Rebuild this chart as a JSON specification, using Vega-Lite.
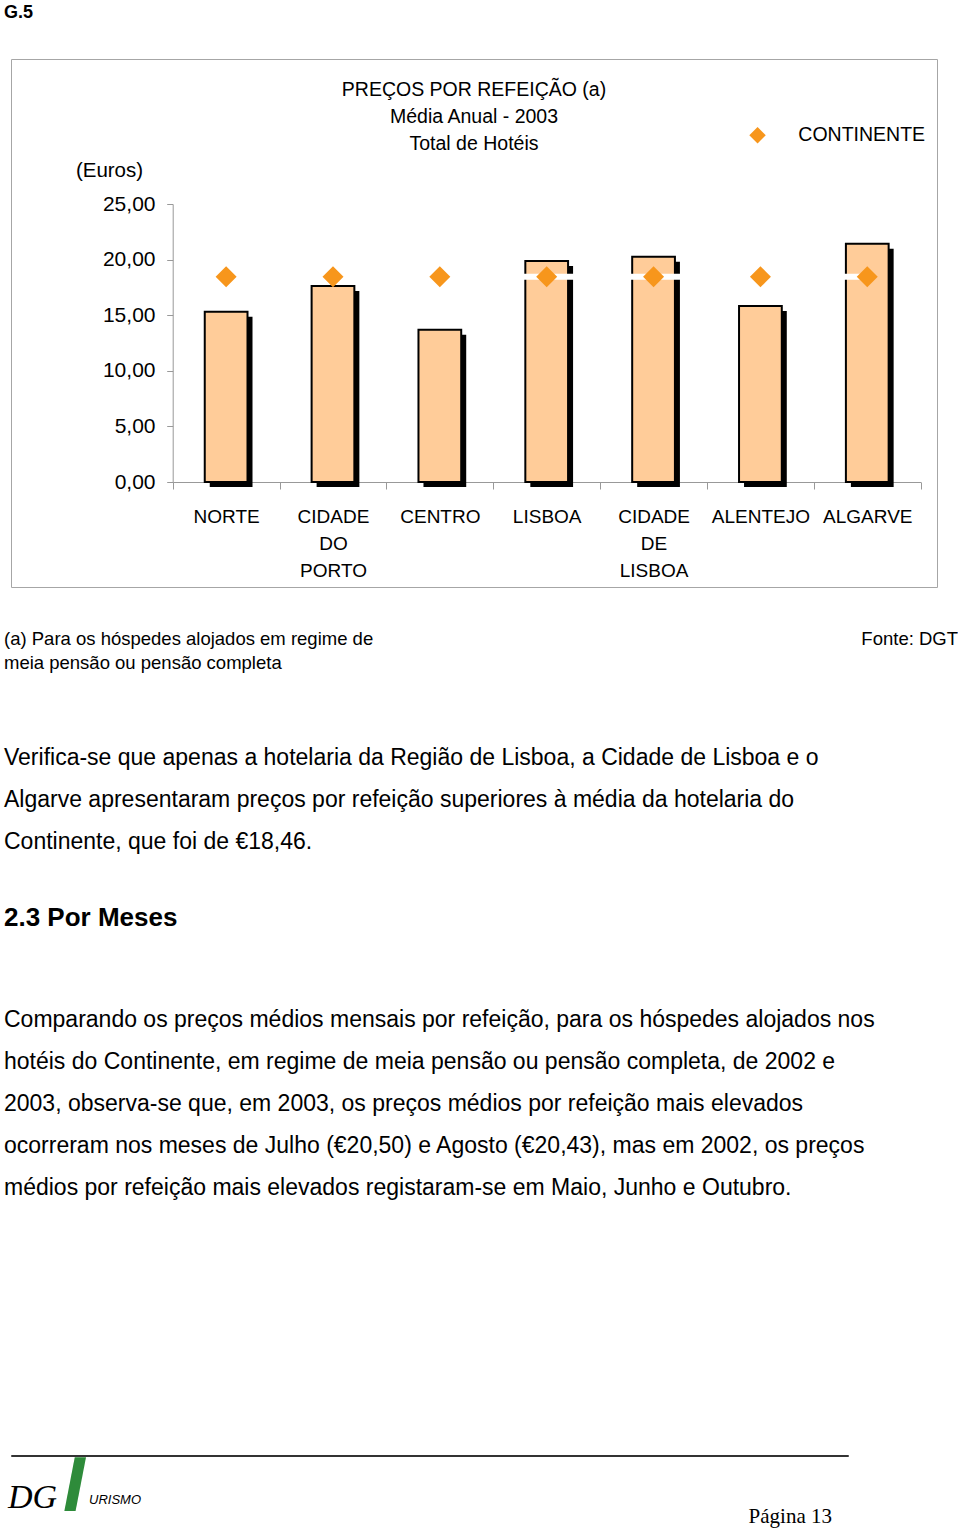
{
  "$schema": "https://vega.github.io/schema/vega-lite/v6.json",
  "padding": {"left": 4, "top": 3, "right": 0, "bottom": 0},
  "background": "white",
  "config": {"font": "Liberation Sans", "view": {"stroke": null}, "title": {"color": "#000", "fontWeight": "normal"}},
  "title": {"text": "G.5", "anchor": "start", "fontSize": 18, "fontWeight": "bold", "baseline": "top", "offset": 37},
  "spacing": 0,
  "bounds": "flush",
  "vconcat": [
    {
      "width": 926,
      "height": 528,
      "view": {"stroke": "#A6A6A6", "strokeWidth": 1},
      "title": {"text": ["PREÇOS POR REFEIÇÃO (a)", "Média Anual - 2003", "Total de Hotéis"], "orient": "top", "anchor": "middle", "frame": "group", "offset": -95.1, "fontSize": 19.5, "lineHeight": 27, "baseline": "top"},
      "data": {"values": [
        {"regiao": "NORTE", "preco": 15.3, "continente": 18.46},
        {"regiao": "CIDADE DO PORTO", "preco": 17.63, "continente": 18.46},
        {"regiao": "CENTRO", "preco": 13.7, "continente": 18.46},
        {"regiao": "LISBOA", "preco": 19.87, "continente": 18.46},
        {"regiao": "CIDADE DE LISBOA", "preco": 20.26, "continente": 18.46},
        {"regiao": "ALENTEJO", "preco": 15.83, "continente": 18.46},
        {"regiao": "ALGARVE", "preco": 21.43, "continente": 18.46}
      ]},
      "encoding": {
        "x": {"field": "regiao", "type": "nominal", "sort": null,
          "scale": {"range": [161.7, 909.7], "paddingInner": 0, "paddingOuter": 0},
          "axis": {"orient": "bottom", "offset": -105, "title": null, "domainColor": "#999999", "tickColor": "#999999", "tickSize": 7, "tickBand": "extent", "labelAngle": 0, "labelFontSize": 19, "labelColor": "#000", "labelPadding": 18, "labelLineHeight": 27, "labelBaseline": "top", "labelExpr": "split(datum.label, ' ')", "labelLimit": 0}}
      },
      "layer": [
        {
          "mark": {"type": "bar", "color": "#000", "width": {"band": 0.4}, "xOffset": 5, "yOffset": 5, "y2Offset": -5},
          "encoding": {"y": {"field": "preco", "type": "quantitative", "title": "(Euros)",
            "scale": {"domain": [0, 25], "range": [423, 145], "nice": false, "zero": true},
            "axis": {"orient": "left", "offset": -161.7, "values": [0, 5, 10, 15, 20, 25], "labelExpr": "replace(format(datum.value, '.2f'), '.', ',')", "grid": false, "domainColor": "#999999", "tickColor": "#999999", "tickSize": 6, "labelFontSize": 21, "labelColor": "#000", "labelPadding": 11.7, "labelFlush": false, "labelOverlap": false, "titleAngle": 0, "titleX": -63.7, "titleY": 117.5, "titleAlign": "center", "titleBaseline": "alphabetic", "titleFontSize": 20.5, "titleFontWeight": "normal", "titleColor": "#000"}}}
        },
        {
          "mark": {"type": "bar", "fill": "#FFCC99", "stroke": "#000", "strokeWidth": 2, "width": {"band": 0.4}},
          "encoding": {"y": {"field": "preco", "type": "quantitative", "title": "(Euros)"}}
        },
        {
          "mark": {"type": "line", "color": "white", "strokeWidth": 6},
          "encoding": {"y": {"field": "continente", "type": "quantitative", "title": "(Euros)"}}
        },
        {
          "mark": {"type": "point", "shape": "diamond", "filled": true, "size": 441, "opacity": 1},
          "encoding": {
            "y": {"field": "continente", "type": "quantitative", "title": "(Euros)"},
            "color": {"datum": "CONTINENTE", "type": "nominal", "scale": {"range": ["#F7961C"]},
              "legend": {"orient": "none", "legendX": 736.8, "legendY": 66.5, "title": null, "symbolType": "diamond", "symbolSize": 270, "symbolStrokeWidth": 0, "labelFontSize": 19.5, "labelColor": "#000", "labelOffset": 31, "padding": 0}}
          }
        }
      ]
    },
    {
      "spacing": 0,
      "bounds": "flush",
      "hconcat": [
        {"width": 400, "height": 42.6, "data": {"values": [{}]}, "mark": {"type": "point", "opacity": 0},
         "title": {"text": ["(a) Para os hóspedes alojados em regime de", "meia pensão ou pensão completa"], "orient": "bottom", "anchor": "start", "frame": "group", "offset": 0, "dx": -7, "baseline": "top", "fontSize": 18.5, "lineHeight": 24}},
        {"width": 547, "height": 42.6, "data": {"values": [{}]}, "mark": {"type": "point", "opacity": 0},
         "title": {"text": "Fonte: DGT", "orient": "bottom", "anchor": "end", "frame": "group", "offset": 0, "baseline": "top", "fontSize": 18.5}}
      ]
    },
    {"width": 926, "height": 160.1, "data": {"values": [{}]}, "mark": {"type": "point", "opacity": 0},
     "title": {"text": ["Verifica-se que apenas a hotelaria da Região de Lisboa, a Cidade de Lisboa e o", "Algarve apresentaram preços por refeição superiores à média da hotelaria do", "Continente, que foi de €18,46."], "orient": "bottom", "anchor": "start", "frame": "group", "offset": 0, "dx": -7, "baseline": "top", "fontSize": 23, "lineHeight": 42}},
    {"width": 926, "height": 156.7, "data": {"values": [{}]}, "mark": {"type": "point", "opacity": 0},
     "title": {"text": "2.3 Por Meses", "orient": "bottom", "anchor": "start", "frame": "group", "offset": 0, "dx": -7, "baseline": "top", "fontSize": 26, "fontWeight": "bold"}},
    {"width": 926, "height": 104.3, "data": {"values": [{}]}, "mark": {"type": "point", "opacity": 0},
     "title": {"text": ["Comparando os preços médios mensais por refeição, para os hóspedes alojados nos", "hotéis do Continente, em regime de meia pensão ou pensão completa, de 2002 e", "2003, observa-se que, em 2003, os preços médios por refeição mais elevados", "ocorreram nos meses de Julho (€20,50) e Agosto (€20,43), mas em 2002, os preços", "médios por refeição mais elevados registaram-se em Maio, Junho e Outubro."], "orient": "bottom", "anchor": "start", "frame": "group", "offset": 0, "dx": -7, "baseline": "top", "fontSize": 23, "lineHeight": 42}},
    {"width": 926, "height": 445, "data": {"values": [{}]}, "mark": {"type": "point", "opacity": 0}},
    {"width": 837, "height": 1, "view": {"stroke": "#333333", "strokeWidth": 1}, "data": {"values": [{}]}, "mark": {"type": "point", "opacity": 0},
     "title": {"text": "Página 13", "orient": "bottom", "anchor": "end", "frame": "group", "offset": 47.4, "dx": -16, "baseline": "top", "font": "Liberation Serif", "fontSize": 21}},
    {
      "spacing": 0,
      "bounds": "flush",
      "hconcat": [
        {"width": 52, "height": 1, "data": {"values": [{}]}, "mark": {"type": "point", "opacity": 0},
         "title": {"text": "DG", "orient": "bottom", "anchor": "start", "frame": "group", "offset": 22, "dx": -3, "baseline": "top", "font": "Liberation Serif", "fontStyle": "italic", "fontSize": 34}},
        {"width": 26, "height": 1, "data": {"values": [{}]}, "mark": {"type": "point", "opacity": 0},
         "title": {"text": "I", "orient": "bottom", "anchor": "start", "frame": "group", "offset": -10, "dx": 0, "baseline": "top", "font": "Liberation Sans", "fontStyle": "italic", "fontWeight": "bold", "fontSize": 78, "color": "#2E8B3A"}},
        {"width": 62, "height": 1, "data": {"values": [{}]}, "mark": {"type": "point", "opacity": 0},
         "title": {"text": "URISMO", "orient": "bottom", "anchor": "start", "frame": "group", "offset": 35, "dx": 0, "baseline": "top", "font": "Liberation Sans", "fontStyle": "italic", "fontSize": 13}}
      ]
    }
  ]
}
